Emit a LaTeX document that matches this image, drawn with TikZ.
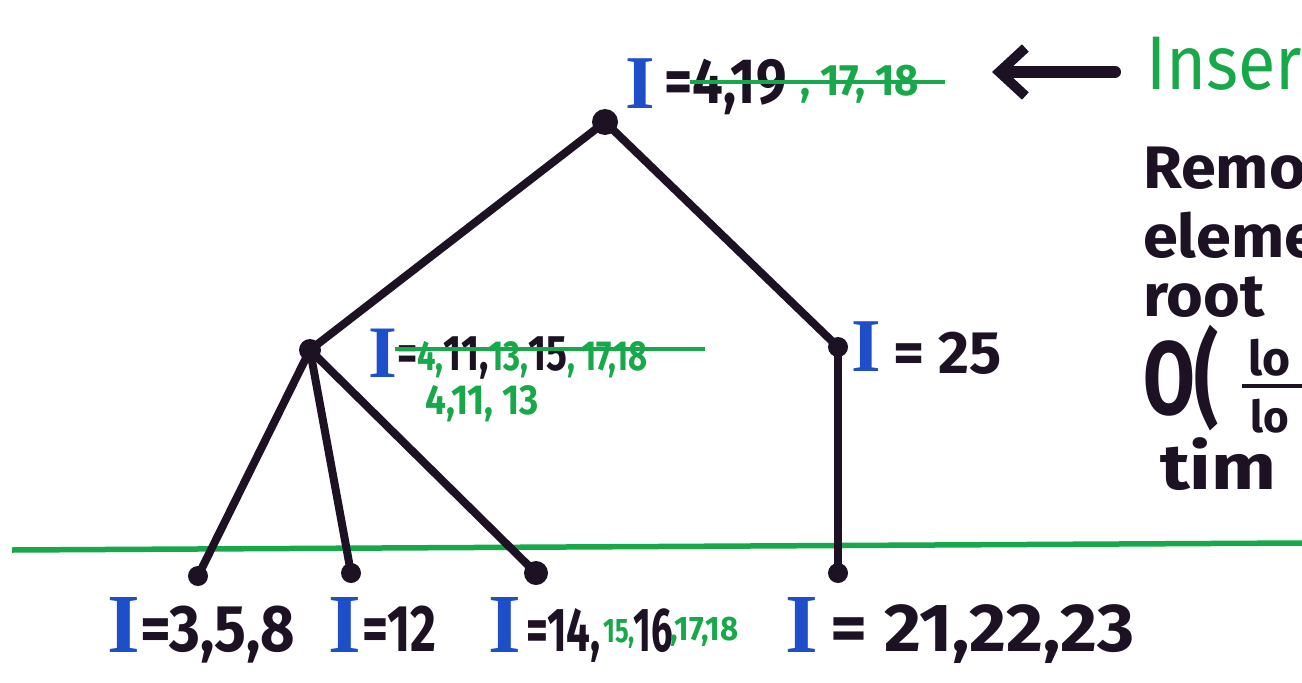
\documentclass[tikz,border=0pt]{standalone}
\usepackage{fontspec}
\setmainfont{Fira Sans}
\newfontfamily\serifI{Liberation Serif}
\usetikzlibrary{arrows.meta}
\definecolor{inkblack}{HTML}{1C1224}
\definecolor{ibblue}{HTML}{1E4FC8}
\definecolor{igreen}{HTML}{17A84A}
\newcommand{\gsm}[1]{{\fontsize{42}{42}\selectfont\textcolor{igreen}{#1}}}
\tikzset{
  edge/.style={line width=8pt, draw=inkblack, line cap=round},
  dotnode/.style={circle, fill=inkblack, inner sep=0pt, minimum size=#1},
  bigI/.style={text=ibblue, inner sep=0pt, font=\serifI\bfseries\fontsize{#1}{#1}\selectfont},
  blk/.style={text=inkblack, inner sep=0pt, anchor=base west, font=\bfseries\fontsize{#1}{#1}\selectfont},
  grn/.style={text=igreen, inner sep=0pt, anchor=base west, font=\bfseries\fontsize{#1}{#1}\selectfont},
  strike/.style={draw=igreen, line width=4.5pt},
}
\begin{document}
\begin{tikzpicture}[x=1pt,y=-1pt]
\useasboundingbox (0,0) rectangle (1302,683);
\fill[white] (0,0) rectangle (1302,683);
\clip (0,0) rectangle (1302,683);

% green baseline
\coordinate (gl) at (12,550);
\coordinate (gr) at (1302,543);
\draw[draw=igreen, line width=5.5pt] (gl) -- (gr);

% tree nodes
\node[dotnode=26pt] (root) at (605,122) {};
\node[dotnode=22pt] (m) at (310,350) {};
\node[dotnode=20pt] (r) at (838,347) {};
\node[dotnode=20pt] (l1) at (198,576) {};
\node[dotnode=20pt] (l2) at (351,573) {};
\node[dotnode=24pt] (l3) at (536,573) {};
\node[dotnode=20pt] (l4) at (838,573) {};

\draw[edge] (root.center) -- (m.center);
\draw[edge] (root.center) -- (r.center);
\draw[edge] (r.center) -- (l4.center);
\draw[edge] (m.center) -- (l1.center);
\draw[edge] (m.center) -- (l2.center);
\draw[edge] (m.center) -- (l3.center);

% root label
\node[bigI=76] (rI) at (640,84) {I};
\node[blk=64] (rT) at (664,103) {\scalebox{0.85}[1]{=4,19}};
\node[grn=44] (rG) at (800,95) {\scalebox{0.95}[1]{, 17, 18}};
\draw[strike] (690,82) -- (945,82);

% mid label
\node[bigI=74] (mI) at (383,353) {I};
\node[blk=50] (mT) at (397,370) {\scalebox{0.78}[1]{=\gsm{4,}11,\gsm{13,}15\gsm{,\,17,18}}};
\draw[strike] (395,349) -- (705,349);
\node[grn=42] (mG) at (425,414) {\scalebox{0.88}[1]{4,11, 13}};

% right label
\node[bigI=76] (rrI) at (866,347) {I};
\node[blk=60] (rrT) at (893,373) {= 25};

% leaf labels
\node[bigI=84] (aI) at (124,625) {I};
\node[blk=66] (aT) at (140,651) {\scalebox{0.9}[1]{=3,5,8}};
\node[bigI=84] (bI) at (345,625) {I};
\node[blk=66] (bT) at (362,651) {\scalebox{0.76}[1]{=12}};
\node[bigI=84] (cI) at (505,625) {I};
\node[blk=62] (cT) at (526,651) {\scalebox{0.68}[1]{=14,}};
\node[grn=34] (cG1) at (603,642) {\scalebox{0.75}[1]{15,}};
\node[blk=62] (cT2) at (633,651) {\scalebox{0.62}[1]{16}};
\node[grn=34] (cG2) at (670,640) {\scalebox{0.92}[1]{,17,18}};
\node[bigI=84] (dI) at (802,625) {I};
\node[blk=68] (dT) at (830,651) {\scalebox{1.05}[1]{= 21,22,23}};

% arrow and Insert
\coordinate (arrS) at (1115,72);
\coordinate (arrE) at (992,72);
\draw[draw=inkblack, line width=12pt, line cap=round,
  -{Straight Barb[length=26pt,width=48pt,line width=10pt]}] (arrS) -- (arrE);
\node[text=igreen, inner sep=0pt, anchor=base west, font=\fontsize{76}{76}\selectfont] (ins) at (1146,89) {\scalebox{0.9}[1]{Inser}};

% right-hand text
\node[blk=60] (t1) at (1143,188) {\scalebox{1.05}[1]{Remo}};
\node[blk=60] (t2) at (1143,257) {\scalebox{1.05}[1]{eleme}};
\node[blk=60] (t3) at (1143,316) {\scalebox{1.05}[1]{root}};
\node[blk=104] (t4) at (1143,414) {\scalebox{0.72}[1]{O(}};
\node[blk=48] (t5) at (1248,375) {lo};
\draw[draw=inkblack, line width=4pt] (1242,386) -- (1302,386);
\node[blk=44] (t6) at (1250,432) {lo};
\node[blk=64] (t7) at (1160,489) {\scalebox{1.2}[1]{tim}};
\end{tikzpicture}
\end{document}
